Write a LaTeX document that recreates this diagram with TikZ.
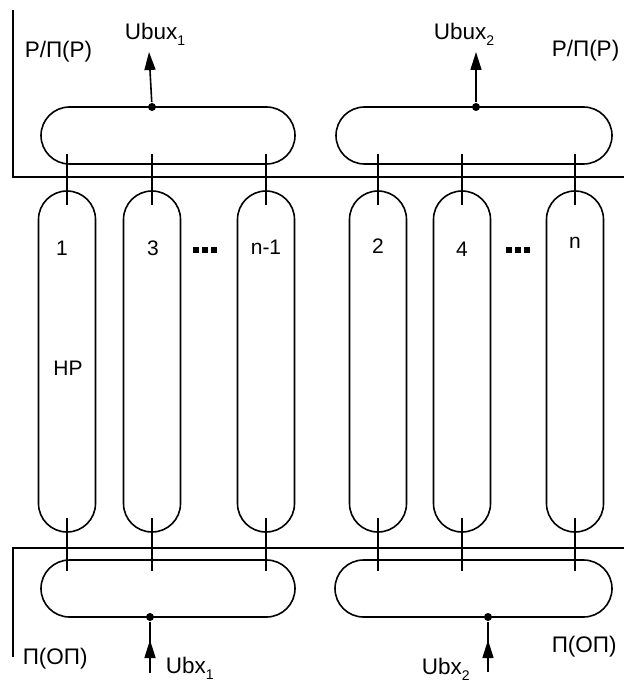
\documentclass[tikz,border=0pt]{standalone}
\usepackage{fontspec}
\setmainfont{Liberation Sans}
\usetikzlibrary{arrows.meta}
\newcommand{\lowidx}[1]{\raisebox{-6pt}{\fontsize{14}{14}\selectfont #1}}
\begin{document}
\begin{tikzpicture}[x=1pt,y=-1pt,
  line width=1.6pt,
  pill/.style={draw,rounded corners=28.5pt},
  lbl/.style={inner sep=0pt,font=\fontsize{21}{24}\selectfont},
  big/.style={inner sep=0pt,font=\fontsize{22.5}{26}\selectfont},
  dot/.style={circle,fill,inner sep=0pt,minimum size=8pt},
  tip/.style={-{Triangle[length=18pt,width=11pt]}}]
\useasboundingbox (0,0) rectangle (624,684);
% boundaries of the two headers
\draw (13,10) -- (13,177) -- (624,177);
\draw (13,657) -- (13,548) -- (624,548);
% collectors
\draw[pill] (41,107) rectangle (295,164);
\draw[pill] (336,107) rectangle (612,164);
\draw[pill] (41,560) rectangle (295,617);
\draw[pill] (335,560) rectangle (612,617);
% tubes with their connecting stubs
\foreach \c in {67,152,266,378,462,575}{
  \draw[pill] (\c-28.5,191) rectangle (\c+28.5,532);
  \draw (\c,154) -- (\c,205);
  \draw (\c,518) -- (\c,571);
}
% tube labels
\node[lbl] (l1) at (62,248) {1};
\node[lbl] (l3) at (153,248) {3};
\node[lbl] (ln1) at (266,247) {n-1};
\node[lbl] (l2) at (378,246) {2};
\node[lbl] (l4) at (462,249) {4};
\node[lbl] (ln) at (575,243) {n};
\node[lbl] (hp) at (68,368) {HP};
% continuation marks
\foreach \x in {205,518}{
  \foreach \d in {-9,0,9}{
    \fill (\x+\d-3.2,246.8) rectangle (\x+\d+3.2,253.2);
  }
}
% outlets
\node[dot] (o1) at (152,107) {};
\node[dot] (o2) at (476,107) {};
\coordinate (e1) at (149,52);
\coordinate (e2) at (476,52);
\draw[tip] (o1) -- (e1);
\draw[tip] (o2) -- (e2);
% inlets
\node[dot] (i1) at (150,617) {};
\node[dot] (i2) at (488,617) {};
\coordinate (s1) at (150,673);
\coordinate (s2) at (488,672);
\coordinate (m1) at (150,640);
\coordinate (m2) at (488,640);
\draw (s1) -- (i1);
\draw (s2) -- (i2);
\draw[tip] (s1) -- (m1);
\draw[tip] (s2) -- (m2);
% texts
\node[big,anchor=base west] (t1) at (24,58) {P/П(P)};
\node[big,anchor=base west] (t2) at (551,57) {P/П(P)};
\node[big,anchor=base west] (t3) at (124,40) {Ubux\lowidx{1}};
\node[big,anchor=base west] (t4) at (433,40) {Ubux\lowidx{2}};
\node[big,anchor=base west] (t5) at (22,664) {П(ОП)};
\node[big,anchor=base west] (t6) at (551,652) {П(ОП)};
\node[big,anchor=base west] (t7) at (165,673) {Ubx\lowidx{1}};
\node[big,anchor=base west] (t8) at (421,674) {Ubx\lowidx{2}};
\end{tikzpicture}
\end{document}
